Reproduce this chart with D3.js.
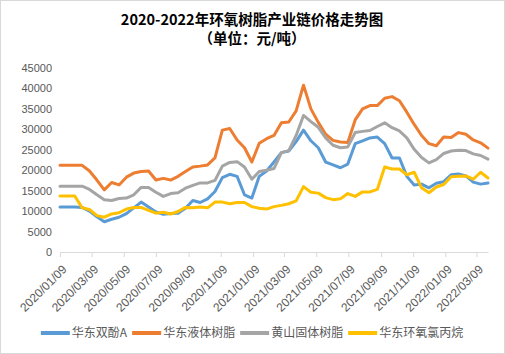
<!DOCTYPE html>
<html>
<head>
<meta charset="utf-8">
<script src="https://cdn.jsdelivr.net/npm/d3@7/dist/d3.min.js"></script>
<style>
  html, body { margin: 0; padding: 0; background: #fff; }
  #chart { width: 505px; height: 354px; }
</style>
</head>
<body>
<div id="chart"></div>
<script>
/** Data (biweekly samples) */
const dates = [
  "2020-01-09", "2020-01-23", "2020-02-06", "2020-02-20", "2020-03-05", "2020-03-19",
  "2020-04-02", "2020-04-16", "2020-04-30", "2020-05-14", "2020-05-28", "2020-06-11",
  "2020-06-25", "2020-07-09", "2020-07-23", "2020-08-06", "2020-08-20", "2020-09-03",
  "2020-09-17", "2020-10-01", "2020-10-15", "2020-10-29", "2020-11-12", "2020-11-26",
  "2020-12-10", "2020-12-24", "2021-01-07", "2021-01-21", "2021-02-04", "2021-02-18",
  "2021-03-04", "2021-03-18", "2021-04-01", "2021-04-15", "2021-04-29", "2021-05-13",
  "2021-05-27", "2021-06-10", "2021-06-24", "2021-07-08", "2021-07-22", "2021-08-05",
  "2021-08-19", "2021-09-02", "2021-09-16", "2021-09-30", "2021-10-14", "2021-10-28",
  "2021-11-11", "2021-11-25", "2021-12-09", "2021-12-23", "2022-01-06", "2022-01-20",
  "2022-02-03", "2022-02-17", "2022-03-03", "2022-03-17", "2022-03-31",
];

const bpa = [
  11000, 11000, 11000, 10900, 10000, 8600, 7400, 8000, 8500, 9400, 10800, 12200,
  11000, 9800, 9200, 9400, 9500, 10700, 12600, 12100, 13000, 14800, 18200, 19000,
  18500, 14000, 13200, 18500, 19800, 22000, 24300, 24700, 27000, 29800, 27200, 25500,
  22000, 21300, 20600, 21500, 26500, 27200, 27900, 28100, 26500, 23000, 23000, 18500,
  16400, 16600, 15700, 16800, 17200, 18900, 19100, 18600, 17100, 16600, 16900,
];

const liquidResin = [
  21200, 21200, 21200, 21200, 19800, 17600, 15200, 17000, 16400, 18300, 19300, 19700,
  19800, 17600, 18000, 17600, 18500, 19700, 20800, 21000, 21300, 23000, 29800, 30200,
  27400, 25500, 22000, 26600, 27700, 28500, 31600, 31800, 34500, 40800, 35000, 31700,
  28800, 27300, 26900, 26800, 32300, 35000, 35800, 35800, 37600, 38000, 37000, 34200,
  31200, 28500, 26500, 26000, 28100, 28000, 29200, 28800, 27400, 26700, 25400,
];

const solidResin = [
  16100, 16100, 16100, 16100, 15300, 14000, 12800, 12600, 13100, 13200, 14000, 15800,
  15800, 14600, 13600, 14300, 14500, 15600, 16300, 16900, 16900, 17500, 21000, 21900,
  22100, 20800, 17800, 19700, 20000, 20400, 24300, 24800, 28500, 33400, 31900, 30500,
  27900, 26100, 25500, 25700, 29200, 29500, 29700, 30700, 31600, 30400, 29600, 27900,
  25100, 23100, 21800, 22600, 24100, 24700, 24900, 24800, 24000, 23600, 22700,
];

const ech = [
  13700, 13700, 13700, 10800, 10400, 8900, 8500, 9300, 9600, 10500, 10900, 10900,
  10200, 9500, 9700, 9300, 9900, 10900, 10800, 11000, 10800, 12200, 12200, 11800,
  12100, 12100, 11100, 10700, 10500, 11100, 11400, 11800, 12500, 16000, 14600, 14400,
  13300, 12800, 13000, 14300, 13600, 14700, 14700, 15300, 20800, 20300, 20300, 18900,
  19500, 15700, 14500, 15900, 16500, 18400, 18500, 18600, 17800, 19500, 18100,
];

const seriesNames = ["华东双酚A", "华东液体树脂", "黄山固体树脂", "华东环氧氯丙烷"];
const seriesColors = ["#5b9bd5", "#ed7d31", "#a5a5a5", "#ffc000"];
const seriesValues = [bpa, liquidResin, solidResin, ech];

const yTicks = [0, 5000, 10000, 15000, 20000, 25000, 30000, 35000, 40000, 45000];
const xTickDates = [
  "2020-01-09", "2020-03-09", "2020-05-09", "2020-07-09", "2020-09-09", "2020-11-09",
  "2021-01-09", "2021-03-09", "2021-05-09", "2021-07-09", "2021-09-09", "2021-11-09",
  "2022-01-09", "2022-03-09",
];

/** Graph configs */
const W = 505;
const H = 354;
const plot = { left: 60, right: 488, top: 68, bottom: 252 };
const latin = "'Liberation Sans', Arial, 'Noto Sans CJK SC', sans-serif";
const cjk = "'Noto Sans CJK SC', 'Microsoft YaHei', sans-serif";

const parse = d3.timeParse("%Y-%m-%d");

const drawChart = () => {
  const svg = d3
    .select("#chart")
    .append("svg")
    .attr("width", W)
    .attr("height", H);

  svg
    .append("rect")
    .attr("x", 0.5)
    .attr("y", 0.5)
    .attr("width", W - 1)
    .attr("height", H - 1)
    .attr("fill", "#fff")
    .attr("stroke", "#d9d9d9");

  /** Title */
  const title = svg
    .append("text")
    .attr("text-anchor", "middle")
    .style("font-family", cjk)
    .style("font-weight", "bold")
    .style("font-size", "14.5px")
    .attr("fill", "#000");
  title.append("tspan").attr("x", 252).attr("y", 25).text("2020-2022年环氧树脂产业链价格走势图");
  title.append("tspan").attr("x", 252).attr("y", 44).text("（单位：元/吨）");

  /** Scales */
  const xScale = d3
    .scaleTime()
    .domain([parse(dates[0]), parse(dates[dates.length - 1])])
    .range([plot.left, plot.right]);

  const yScale = d3
    .scaleLinear()
    .domain([0, 45000])
    .range([plot.bottom, plot.top]);

  /** Y axis: labels only */
  const yAxis = d3.axisLeft(yScale).tickValues(yTicks).tickSize(0).tickPadding(8).tickFormat(d3.format("d"));
  const gy = svg
    .append("g")
    .attr("transform", `translate(${plot.left}, 0)`)
    .call(yAxis);
  gy.select(".domain").remove();
  gy.selectAll("text")
    .attr("fill", "#595959")
    .style("font-family", latin)
    .style("font-size", "11px");

  /** X axis */
  const xAxis = d3
    .axisBottom(xScale)
    .tickValues(xTickDates.map(parse))
    .tickSizeInner(5)
    .tickSizeOuter(0)
    .tickFormat(d3.timeFormat("%Y/%m/%d"));
  const gx = svg
    .append("g")
    .attr("transform", `translate(0, ${plot.bottom})`)
    .call(xAxis);
  gx.select(".domain").attr("stroke", "#d9d9d9");
  gx.selectAll(".tick line").attr("stroke", "#d9d9d9");
  gx.selectAll("text")
    .attr("x", 0)
    .attr("y", 0)
    .attr("dy", "0.35em")
    .attr("transform", "translate(4, 15) rotate(-45)")
    .attr("text-anchor", "end")
    .attr("fill", "#595959")
    .style("font-family", latin)
    .style("font-size", "12px");

  /** Lines */
  const line = d3
    .line()
    .x((d) => xScale(d.date))
    .y((d) => yScale(d.value));

  seriesValues.forEach((values, i) => {
    const pts = values.map((v, j) => ({ date: parse(dates[j]), value: v }));
    svg
      .append("path")
      .datum(pts)
      .attr("fill", "none")
      .attr("stroke", seriesColors[i])
      .attr("stroke-width", 3)
      .attr("stroke-linejoin", "round")
      .attr("stroke-linecap", "round")
      .attr("d", line);
  });

  /** Legend */
  const legend = svg.append("g");
  let lx = 0;
  seriesNames.forEach((name, i) => {
    const item = legend.append("g").attr("transform", `translate(${lx}, 0)`);
    item
      .append("line")
      .attr("x1", 0)
      .attr("x2", 29)
      .attr("y1", 0)
      .attr("y2", 0)
      .attr("stroke", seriesColors[i])
      .attr("stroke-width", 4);
    const t = item
      .append("text")
      .attr("x", 31)
      .attr("y", 0)
      .attr("dy", "0.35em")
      .attr("fill", "#595959")
      .style("font-family", cjk)
      .style("font-size", "12px")
      .text(name);
    lx += 31 + t.node().getComputedTextLength() + 5;
  });
  const legendWidth = lx - 5;
  legend.attr("transform", `translate(${252 - legendWidth / 2}, 333)`);
};

drawChart();
</script>
</body>
</html>
